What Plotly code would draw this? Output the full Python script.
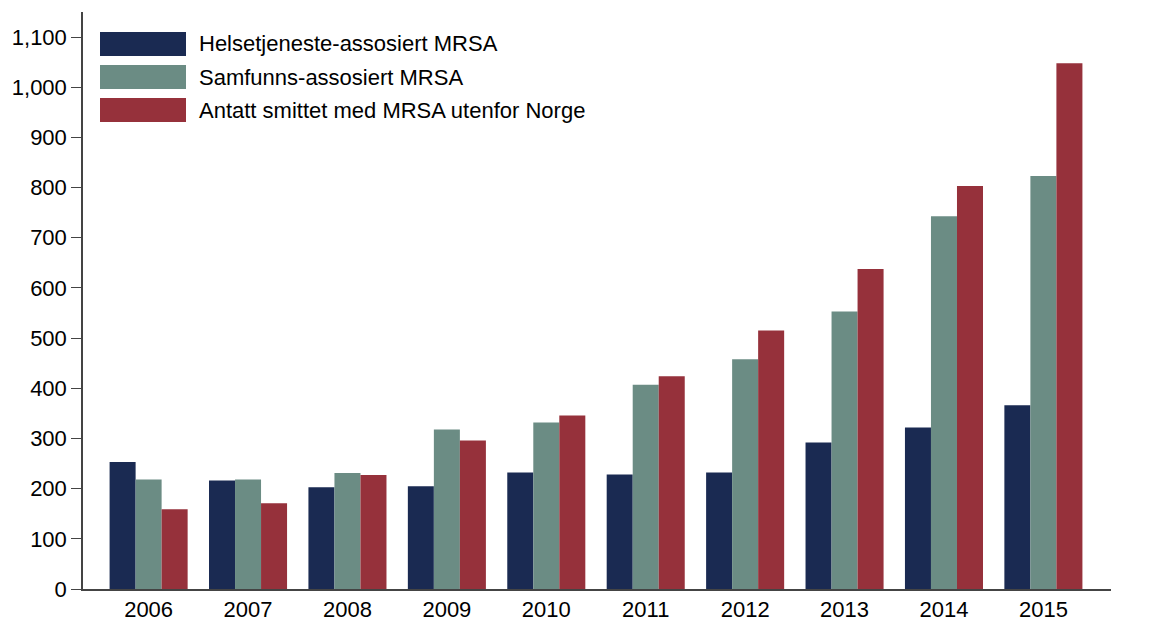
import plotly.graph_objects as go

years = ["2006", "2007", "2008", "2009", "2010", "2011", "2012", "2013", "2014", "2015"]
helse = [253, 216, 203, 205, 232, 228, 232, 292, 322, 366]
samfunn = [218, 218, 231, 318, 332, 407, 458, 553, 743, 823]
utenfor = [159, 171, 227, 296, 346, 424, 515, 638, 803, 1048]
names = ["Helsetjeneste-assosiert MRSA", "Samfunns-assosiert MRSA", "Antatt smittet med MRSA utenfor Norge"]
colors = ["#1a2a52", "#6b8c84", "#96313b"]
yticks = [0, 100, 200, 300, 400, 500, 600, 700, 800, 900, 1000, 1100]

fig = go.Figure()
for name, vals, col in zip(names, [helse, samfunn, utenfor], colors):
    fig.add_trace(go.Bar(x=years, y=vals, name=name, marker=dict(color=col, line=dict(width=0)),
                         showlegend=False))

font = "Liberation Sans, Arial, sans-serif"
OFF = 8  # page body margin
W, H = 1159 - 2 * OFF, 639 - 2 * OFF
# target plot area in screen pixels
L, R, T, B = 83, 1111, 12, 589
pw, ph = R - L, B - T
def px(x):
    return (x - L) / pw
def py(y):
    return (B - y) / ph
shapes = []
annotations = []
for i, (name, col) in enumerate(zip(names, colors)):
    cy = 44 + 33 * i
    shapes.append(dict(type="rect", xref="paper", yref="paper",
                       x0=px(100), x1=px(186), y0=py(cy + 12), y1=py(cy - 12),
                       fillcolor=col, line=dict(width=0)))
    annotations.append(dict(xref="paper", yref="paper", x=px(197), y=py(cy),
                            text=name, showarrow=False, xanchor="left", yanchor="middle",
                            font=dict(family=font, size=22, color="black")))

fig.update_layout(
    width=W, height=H,
    margin=dict(l=L - OFF, r=W - (R - OFF), t=T - OFF, b=H - (B - OFF), autoexpand=False),
    plot_bgcolor="white", paper_bgcolor="white",
    barmode="group", bargap=0.215, bargroupgap=0,
    font=dict(family=font, size=22, color="black"),
    shapes=shapes, annotations=annotations,
    xaxis=dict(range=[-0.66, 9.68], showline=True, linecolor="#444", linewidth=1.5,
               ticks="", tickfont=dict(size=22), showgrid=False),
    yaxis=dict(range=[0, 1150], tickvals=yticks, tickformat=",d", showline=True,
               linecolor="#444", linewidth=1.5, ticks="outside", ticklen=10, tickcolor="#444",
               showgrid=False, zeroline=False, tickfont=dict(size=22)),
)
fig.write_html("out.html")
